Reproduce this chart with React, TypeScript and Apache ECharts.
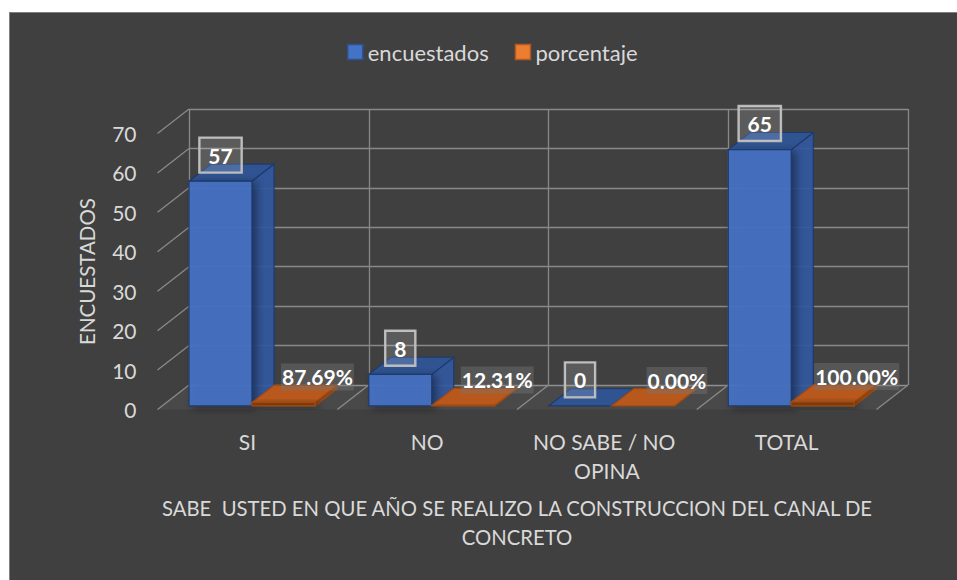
import React, { useEffect, useRef } from 'react';
import * as echarts from 'echarts';

// ---- data ----
const categories = ['SI', 'NO', 'NO SABE / NO OPINA', 'TOTAL'];
const encuestados = [57, 8, 0, 65];
const porcentaje = [0.8769, 0.1231, 0, 1];
const yTicks = [0, 10, 20, 30, 40, 50, 60, 70];
const seriesNames = ['encuestados', 'porcentaje'];
const yAxisTitle = 'ENCUESTADOS';
const xAxisTitle = 'SABE  USTED EN QUE AÑO SE REALIZO LA CONSTRUCCION DEL CANAL DE\nCONCRETO';

// ---- style / 3D projection ----
const FONT = 'Lato, "Noto Sans", sans-serif';
const TEXT = '#d9d9d9';
const GRID_LINE = '#898989';
const D = [-31.5, 24.5]; // back plane -> front plane offset
const FRONT = 0.854;
const BACK = 0.154;
const BAR_FRAC = 0.35;

const blue = {
  front: 'rgba(68,114,196,0.92)',
  side: 'rgba(50,88,160,0.92)',
  top: 'rgba(47,85,151,0.95)',
  edge: '#1f3a6e',
};
const orange = {
  front: '#7c3a0e',
  side: '#8a4210',
  top: '#b8581c',
  edge: '#a04a12',
};

const makeBarRender = (pos: number, c: any, isPct: boolean) => (params: any, api: any) => {
  const idx = api.value(0);
  const v = api.value(1);
  const base = api.coord([idx, 0]);
  const top = api.coord([idx, v]);
  const cw = api.size([1, 0])[0];
  const w = BAR_FRAC * cw;
  const x0 = base[0] - w + pos * w;
  const x1 = x0 + w;
  const fx = FRONT * D[0], fy = FRONT * D[1], bx = BACK * D[0], by = BACK * D[1];
  const yb = base[1], yt = top[1];
  const front = [[x0 + fx, yt + fy], [x1 + fx, yt + fy], [x1 + fx, yb + fy], [x0 + fx, yb + fy]];
  const side = [[x1 + fx, yt + fy], [x1 + bx, yt + by], [x1 + bx, yb + by], [x1 + fx, yb + fy]];
  const topF = [[x0 + fx, yt + fy], [x1 + fx, yt + fy], [x1 + bx, yt + by], [x0 + bx, yt + by]];
  const cx = (x0 + x1) / 2 + fx;
  const children: any[] = [
    { type: 'polygon', shape: { points: side }, style: { fill: c.side, stroke: c.edge, lineWidth: 1.2 } },
    { type: 'polygon', shape: { points: topF }, style: { fill: c.top, stroke: c.edge, lineWidth: 1.2 } },
    {
      type: 'polygon', shape: { points: front },
      style: { fill: c.front, stroke: c.edge, lineWidth: 1.2, shadowBlur: 8, shadowColor: 'rgba(0,0,0,0.45)', shadowOffsetX: 4, shadowOffsetY: 2 },
    },
  ];
  if (isPct) {
    children.push({
      type: 'text', z2: 100,
      style: {
        text: (v * 100).toFixed(2) + '%',
        x: cx + 34, y: yt + fy - 25.5,
        align: 'center', verticalAlign: 'middle',
        fontFamily: FONT, fontSize: 21, fontWeight: 'bold', fill: '#ffffff',
        backgroundColor: 'rgba(120,120,120,0.4)', padding: [3, 1],
      },
    });
  } else {
    children.push({
      type: 'text', z2: 100,
      style: {
        text: String(v),
        x: cx, y: yt + (fy + by) / 2,
        align: 'center', verticalAlign: 'bottom',
        fontFamily: FONT, fontSize: 21, fontWeight: 'bold', fill: '#ffffff',
        backgroundColor: 'rgba(255,255,255,0.14)', borderColor: '#b8b8b8', borderWidth: 1.2,
        padding: [7, 9],
      },
    });
  }
  return { type: 'group', children };
};

const wallRender = (params: any, api: any) => {
  const v = api.value(1);
  const p = api.coord([0, v]);
  const cw = api.size([1, 0])[0];
  const left = p[0] - cw / 2;
  return {
    type: 'line',
    shape: { x1: left, y1: p[1], x2: left + D[0], y2: p[1] + D[1] },
    style: { stroke: GRID_LINE, lineWidth: 1.3 },
  };
};

const floorRender = (params: any, api: any) => {
  const idx = api.value(0);
  const p = api.coord([idx, 0]);
  const cw = api.size([1, 0])[0];
  const L = p[0] - cw / 2;
  const R = p[0] + cw / 2;
  const y = p[1];
  const children: any[] = [
    {
      type: 'polygon',
      shape: { points: [[L, y], [R, y], [R + D[0], y + D[1]], [L + D[0], y + D[1]]] },
      style: { fill: 'rgba(255,255,255,0.05)' },
    },
    { type: 'line', shape: { x1: R, y1: y, x2: R + D[0], y2: y + D[1] }, style: { stroke: GRID_LINE, lineWidth: 1.3 } },
  ];
  return { type: 'group', children };
};

const option: any = {
  animation: false,
  legend: {
    data: [
      { name: seriesNames[0], itemStyle: { color: '#4472C4', borderColor: '#2f528f', borderWidth: 1.5 } },
      { name: seriesNames[1], itemStyle: { color: '#ED7D31', borderColor: '#ae5a21', borderWidth: 1.5 } },
    ],
    left: 347, top: 41, padding: 0,
    icon: 'rect', itemWidth: 15, itemHeight: 15, itemGap: 26,
    textStyle: { color: TEXT, fontSize: 22, fontFamily: FONT },
  },
  grid: [
    { left: 189, top: 109, width: 719, height: 276 },
    { left: 157.5, top: 133.5, width: 719, height: 276 },
  ],
  xAxis: [
    {
      gridIndex: 0, type: 'category', data: categories,
      axisLine: { show: false }, axisTick: { show: false }, axisLabel: { show: false },
      splitLine: { show: true, lineStyle: { color: GRID_LINE, width: 1.3 } },
    },
    {
      gridIndex: 1, type: 'category', data: categories,
      axisLine: { show: false }, axisTick: { show: false }, splitLine: { show: false },
      axisLabel: {
        color: TEXT, fontSize: 21, fontFamily: FONT, margin: 17, lineHeight: 29,
        width: 170, overflow: 'break', interval: 0,
      },
      name: xAxisTitle, nameLocation: 'middle', nameGap: 83.5,
      nameTextStyle: { color: TEXT, fontSize: 20.3, fontFamily: FONT, lineHeight: 29 },
    },
  ],
  yAxis: [
    {
      gridIndex: 0, type: 'value', min: 0, max: 70, interval: 10,
      axisLine: { show: false }, axisTick: { show: false }, axisLabel: { show: false },
      splitLine: { show: true, lineStyle: { color: GRID_LINE, width: 1.3 } },
    },
    {
      gridIndex: 1, type: 'value', min: 0, max: 70, interval: 10,
      axisLine: { show: false }, axisTick: { show: false }, splitLine: { show: false },
      axisLabel: { color: TEXT, fontSize: 21, fontFamily: FONT, margin: 21 },
      name: yAxisTitle, nameLocation: 'middle', nameGap: 60, nameRotate: 90,
      nameTextStyle: { color: TEXT, fontSize: 20.5, fontFamily: FONT },
    },
  ],
  series: [
    {
      name: 'walls', type: 'custom', xAxisIndex: 0, yAxisIndex: 0, z: 1, silent: true,
      renderItem: wallRender, data: yTicks.map((t) => [0, t]),
    },
    {
      name: 'floor', type: 'custom', xAxisIndex: 0, yAxisIndex: 0, z: 1, silent: true,
      renderItem: floorRender, data: categories.map((_, i) => [i, 0]),
    },
    {
      name: seriesNames[0], type: 'custom', xAxisIndex: 0, yAxisIndex: 0, z: 3,
      itemStyle: { color: '#4472C4' },
      renderItem: makeBarRender(0, blue, false),
      data: encuestados.map((v, i) => [i, v]),
    },
    {
      name: seriesNames[1], type: 'custom', xAxisIndex: 0, yAxisIndex: 0, z: 4,
      itemStyle: { color: '#ED7D31' },
      renderItem: makeBarRender(1, orange, true),
      data: porcentaje.map((v, i) => [i, v]),
    },
  ],
};

export default function App() {
  const ref = useRef<HTMLDivElement>(null);
  useEffect(() => {
    const chart = echarts.init(ref.current!, null, { renderer: 'svg' });
    chart.setOption(option);
    return () => chart.dispose();
  }, []);
  return (
    <div style={{ position: 'fixed', left: 0, top: 0, width: 957, height: 580, background: '#ffffff', overflow: 'hidden' }}>
      <div style={{ position: 'absolute', left: 9, top: 12, width: 960, height: 580, background: '#404040', border: '1px solid #7f7f7f', boxSizing: 'border-box' }} />
      <div ref={ref} style={{ position: 'absolute', left: 0, top: 0, width: 957, height: 580 }} />
    </div>
  );
}
